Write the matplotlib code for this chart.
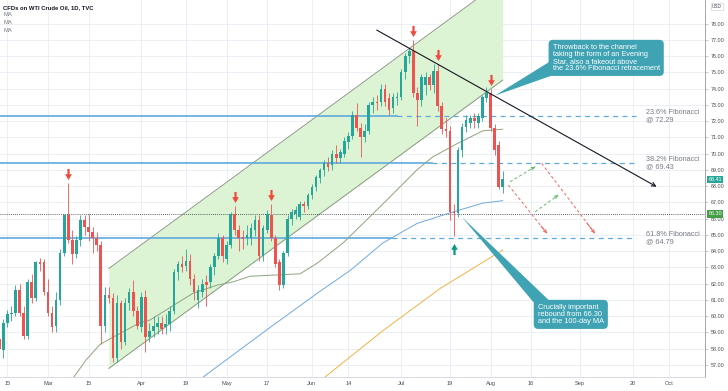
import matplotlib
matplotlib.use("Agg")
import matplotlib.pyplot as plt
import matplotlib.transforms as mtransforms
from matplotlib.path import Path
from matplotlib.patches import Polygon
import numpy as np
import pandas as pd

plt.rcParams["font.family"] = ["Liberation Sans", "DejaVu Sans"]

# trading days of the TVC feed (Good Friday is missing)
days = pd.bdate_range("2021-02-11", "2021-10-08")
days = days[days != pd.Timestamp("2021-04-02")]
zero = days.get_loc(pd.Timestamp("2021-02-15"))


def pos(d):
    return days.get_loc(pd.Timestamp(d)) - zero


# daily candles, 11 Feb .. 5 Aug 2021
opens = [58.6, 57.9, 59.6, 60.1, 60.2, 61.6, 60.2, 58.8, 62.1, 61.1,
         63.3, 63.3, 61.5, 60.2, 59.4, 61.0, 63.9, 66.2, 64.7, 63.8,
         64.7, 65.9, 65.5, 65.2, 64.8, 64.4, 59.4, 61.3, 61.1, 57.4,
         60.8, 58.4, 60.8, 61.5, 60.3, 59.3, 61.2, 58.7, 59.1, 59.3,
         59.6, 59.3, 59.5, 60.3, 62.7, 63.2, 63.1, 63.4, 62.3, 61.0,
         61.5, 62.1, 62.1, 63.0, 63.7, 64.8, 63.5, 64.4, 66.3, 65.3,
         64.85, 64.8, 64.8, 65.3, 65.9, 63.7, 65.3, 66.2, 64.8, 63.3,
         61.9, 63.9, 66.0, 66.3, 66.1, 66.9, 66.8, 67.45, 67.96, 68.5,
         69.0, 69.4, 69.3, 70.0, 69.7, 70.0, 70.7, 71.1, 72.4, 71.6,
         71.0, 71.4, 73.0, 73.2, 73.2, 74.0, 73.4, 72.8, 73.4, 73.5,
         75.0, 76.0, 76.3, 73.7, 73.3, 74.2, 74.7, 74.2, 75.1, 72.9,
         71.5, 71.4, 66.4, 66.35, 70.2, 71.65, 71.9, 72.2, 71.9, 72.2,
         73.4, 73.7, 71.55, 70.5, 67.96]
highs = [58.9, 59.8, 60.4, 60.6, 61.9, 62.0, 60.6, 62.3, 62.6, 63.4,
         63.6, 63.5, 62.3, 60.6, 61.5, 64.1, 66.3, 68.2, 65.3, 64.9,
         66.2, 66.2, 66.3, 65.5, 65.2, 64.6, 61.8, 61.8, 61.4, 61.3,
         61.0, 61.1, 61.7, 62.2, 60.6, 61.5, 61.6, 59.6, 60.0, 60.0,
         60.0, 60.1, 60.6, 62.9, 63.4, 63.7, 64.1, 63.8, 62.6, 61.9,
         62.3, 62.5, 63.2, 63.9, 65.1, 65.0, 64.6, 66.4, 66.8, 65.6,
         65.3, 65.6, 65.7, 66.2, 66.2, 65.6, 66.5, 66.9, 65.0, 63.5,
         64.0, 66.2, 66.6, 66.8, 67.1, 67.1, 67.6, 68.1, 68.7, 69.1,
         69.6, 69.8, 70.2, 70.5, 70.3, 71.0, 71.3, 72.6, 73.1, 71.9,
         71.8, 73.2, 73.5, 73.6, 74.3, 74.3, 73.7, 73.7, 73.8, 75.2,
         76.2, 76.5, 77.0, 74.1, 74.9, 75.0, 74.9, 75.5, 75.5, 73.2,
         72.2, 71.7, 66.9, 70.4, 71.9, 72.4, 72.4, 72.5, 72.5, 73.6,
         74.1, 74.0, 71.8, 70.8, 68.9]
lows = [57.7, 57.4, 59.3, 59.7, 60.0, 60.0, 58.6, 58.6, 60.8, 60.9,
        62.8, 61.3, 60.0, 59.0, 59.0, 60.7, 63.7, 64.5, 63.2, 63.6,
        64.3, 65.0, 64.6, 63.9, 64.0, 58.3, 59.0, 60.8, 57.2, 57.2,
        58.0, 58.2, 60.4, 60.0, 59.2, 59.0, 57.8, 58.4, 58.7, 58.9,
        58.9, 58.9, 59.1, 60.1, 62.2, 62.7, 62.8, 61.9, 61.0, 60.5,
        61.2, 60.6, 61.7, 62.5, 63.5, 63.3, 63.2, 64.2, 65.0, 64.0,
        64.1, 64.4, 64.4, 64.9, 63.4, 63.4, 65.1, 64.6, 63.0, 61.6,
        61.7, 63.7, 65.6, 66.0, 65.9, 66.4, 66.6, 67.2, 67.7, 68.2,
        68.6, 68.9, 69.0, 69.4, 69.4, 69.8, 70.3, 70.9, 71.4, 69.8,
        70.7, 71.2, 72.5, 72.7, 72.9, 72.9, 72.4, 72.5, 73.0, 73.3,
        74.6, 75.6, 73.5, 71.7, 72.9, 73.6, 73.9, 73.7, 72.6, 71.2,
        71.0, 65.9, 64.9, 66.1, 69.8, 71.3, 71.6, 71.6, 71.6, 72.0,
        73.2, 71.4, 69.9, 67.8, 67.6]
closes = [58.0, 59.6, 60.1, 60.2, 61.6, 60.2, 58.8, 62.1, 61.1, 63.3,
          63.2, 61.5, 60.2, 59.3, 61.0, 63.9, 66.2, 64.7, 63.8, 64.7,
          65.9, 65.5, 65.2, 64.8, 64.4, 59.4, 61.3, 61.1, 57.4, 60.8,
          58.4, 60.8, 61.5, 60.3, 59.4, 61.2, 58.7, 59.1, 59.4, 59.6,
          59.2, 59.5, 60.3, 62.7, 63.2, 63.0, 63.4, 62.3, 61.5, 61.6,
          62.0, 61.9, 63.0, 63.7, 64.8, 63.7, 64.4, 66.3, 65.3, 64.8,
          64.75, 65.0, 65.4, 65.9, 63.7, 65.4, 66.3, 64.8, 63.2, 61.9,
          63.9, 66.0, 66.4, 66.5, 66.9, 66.8, 67.45, 67.96, 68.58, 69.0,
          69.4, 69.2, 70.0, 69.7, 70.1, 70.8, 71.1, 72.4, 71.6, 71.0,
          71.4, 73.0, 73.2, 73.1, 74.0, 73.2, 72.7, 73.5, 73.5, 75.0,
          76.0, 76.3, 73.7, 73.3, 74.7, 74.7, 74.2, 75.1, 72.9, 71.5,
          71.4, 66.4, 66.35, 70.2, 71.65, 72.06, 72.2, 72.0, 72.3, 73.5,
          73.7, 71.55, 70.2, 67.96, 68.41]

# moving averages (bar position, value)
ma50_pos = [14.5, 19.4, 22.8, 25.3, 32.7, 35.1, 45.7, 51.6, 55.5, 59.8,
            72.1, 76.3, 82.7, 92.5, 100.9, 104.8, 110.7, 117.1, 122]
ma50_val = [55.6, 57.3, 58.25, 58.6, 59.6, 59.75, 61.4, 61.9, 62.1, 62.45,
            62.6, 63.25, 64.5, 66.9, 69.0, 69.8, 70.6, 71.4, 71.5]
ma100_pos = [45.8, 64.7, 76.3, 84.4, 92.5, 100.9, 109.0, 117.1, 122]
ma100_val = [55.8, 59.3, 61.4, 62.8, 64.5, 65.7, 66.35, 66.95, 67.1]
ma200_pos = [76.0, 92.5, 106.6, 122]
ma200_val = [55.8, 59.1, 61.7, 64.06]

# drawings
fib_levels = [72.29, 69.43, 64.79]
fib_names = ["23.6% Fibonacci", "38.2% Fibonacci", "61.8% Fibonacci"]
fib_solid_end = [96, 104.5, 94.7]
support = 66.30
arrow_down_bars = [15, 56, 65, 100, 106, 119]
arrow_up_bars = [110]
channel_pos = [25, 122]
channel_low = [56.78, 74.52]
channel_width = 6.15
trend_pos = [90.97, 159.9]
trend_val = [77.6, 67.96]
# projected paths: (start pos, start price, end pos, end price)
paths_red = [(123.4, 68.06, 132.9, 65.09), (131.6, 69.40, 144.7, 65.09)]
paths_green = [(123.8, 68.26, 130.0, 69.19), (130.0, 66.42, 135.7, 67.45)]

tick_dates = ["2021-02-15", "2021-03-01", "2021-03-15", "2021-04-01",
              "2021-04-19", "2021-05-03", "2021-05-17", "2021-06-01",
              "2021-06-14", "2021-07-01", "2021-07-19", "2021-08-02",
              "2021-08-16", "2021-09-01", "2021-09-20", "2021-10-01"]
tick_labels = ["15", "Mar", "15", "Apr", "19", "May", "17", "Jun", "14",
               "Jul", "19", "Aug", "16", "Sep", "20", "Oct"]

UP, DOWN = "#26a69a", "#ef5350"
TEAL = "#3fa3b3"
FIB = "#5eaadf"
GREY = "#787b86"
XMIN, XMAX = -1.813, 171.83

fig = plt.figure(figsize=(7.28, 3.91), dpi=100)
ax = fig.add_axes([0, 14 / 391, 705 / 728, 377 / 391])
ax.set_xlim(XMIN, XMAX)
ax.set_ylim(56.25, 79.45)

# rising channel
cx = np.array(channel_pos, dtype=float)
clo = np.array(channel_low)
ax.fill_between(cx, clo, clo + channel_width, color="#dcf4d3", lw=0, zorder=1)
ax.plot(cx, clo, color="#8c9a86", lw=0.7, zorder=2)
ax.plot(cx, clo + channel_width, color="#8c9a86", lw=0.7, zorder=2)

# fibonacci levels
fib_end = 154.8
for lvl, name, se in zip(fib_levels, fib_names, fib_solid_end):
    ax.plot([XMIN, se], [lvl, lvl], color=FIB, lw=1.2, zorder=2)
    ax.plot([se, fib_end], [lvl, lvl], color=FIB, lw=0.9, dashes=(4, 3.5), zorder=2)
    ax.text(157.3, lvl, f"{name}\n@ {lvl:.2f}", fontsize=5.2, color=GREY,
            ha="left", va="center", linespacing=1.0, zorder=3)
ax.plot([XMIN, XMAX], [support, support], color="#2a2e39", lw=0.6,
        ls=(0, (1, 1.5)), zorder=2)

# moving averages
ax.plot(ma50_pos, ma50_val, color="#8fa37f", lw=0.7, zorder=3)
ax.plot(ma100_pos, ma100_val, color="#6fa9dc", lw=0.7, zorder=3)
ax.plot(ma200_pos, ma200_val, color="#f5b246", lw=0.7, zorder=3)

# candles
x = np.arange(len(opens)) + pos("2021-02-11")
o, h, l, c = map(np.array, (opens, highs, lows, closes))
col = np.where(c >= o, UP, DOWN)
ax.vlines(x, l, h, colors=col, lw=0.6, zorder=4)
ax.bar(x, np.maximum(np.abs(c - o), 0.06), bottom=np.minimum(o, c),
       width=0.64, color=col, lw=0, zorder=5)

# arrow marks
down = Path([(-0.2, 1), (0.2, 1), (0.2, 0.05), (0.6, 0.05), (0, -1),
             (-0.6, 0.05), (-0.2, 0.05), (-0.2, 1)], closed=True)
up = Path([(-0.2, -1), (0.2, -1), (0.2, -0.05), (0.6, -0.05), (0, 1),
           (-0.6, -0.05), (-0.2, -0.05), (-0.2, -1)], closed=True)
i0 = pos("2021-02-11")
dn_idx = np.array(arrow_down_bars)
up_idx = np.array(arrow_up_bars)
ax.plot(dn_idx, h[dn_idx - i0] + 0.55, ls="", marker=down, ms=8,
        color="#ef4a3f", mew=0, zorder=6)
ax.plot(up_idx, l[up_idx - i0] - 0.75, ls="", marker=up, ms=8,
        color="#089981", mew=0, zorder=6)

# trend line
ax.annotate("", xy=(trend_pos[1], trend_val[1]), xytext=(trend_pos[0], trend_val[0]),
            arrowprops=dict(arrowstyle="->", color="#131722", lw=0.8,
                            mutation_scale=7, shrinkA=0, shrinkB=0), zorder=6)

# projected paths
for segs, colr in ((paths_red, "#ef6a62"), (paths_green, "#66bb6a")):
    for x0, y0, x1, y1 in segs:
        ax.plot([x0, x1], [y0, y1], color=colr, lw=0.7, dashes=(3, 2.5), zorder=6)
        ax.annotate("", xy=(x1, y1), xytext=(x1 - (x1 - x0) * 0.15, y1 - (y1 - y0) * 0.15),
                    arrowprops=dict(arrowstyle="->", color=colr, lw=0.7,
                                    mutation_scale=5, shrinkA=0, shrinkB=0), zorder=6)

# callouts
ax.add_patch(Polygon([(120.1, 73.57), (133.4, 75.63), (136.6, 75.02)],
                     closed=True, fc=TEAL, ec="none", zorder=8))
ax.text(134.3, 76.75, "Throwback to the channel\ntaking the form of an Evening\n"
        "Star, also a fakeout above\nthe 23.6% Fibonacci retracement",
        fontsize=5.3, color="white", ha="left", va="top", linespacing=1.0, zorder=9,
        bbox=dict(boxstyle="round,pad=0.55,rounding_size=0.6", fc=TEAL, ec="none"))
ax.add_patch(Polygon([(111.98, 66.09), (129.96, 60.74), (133.6, 60.92)],
                     closed=True, fc=TEAL, ec="none", zorder=8))
ax.text(130.65, 60.75, "Crucially important\nrebound from 66.30\nand the 100-day MA",
        fontsize=5.3, color="white", ha="left", va="top", linespacing=1.0, zorder=9,
        bbox=dict(boxstyle="round,pad=0.55,rounding_size=0.6", fc=TEAL, ec="none"))

# axes styling
ax.set_xticks([pos(d) for d in tick_dates])
ax.set_xticklabels(tick_labels)
ax.set_yticks(np.arange(57, 79))
ax.set_yticklabels([f"{v:.2f}" for v in np.arange(57, 79)])
ax.yaxis.tick_right()
ax.tick_params(axis="y", length=2, width=0.5, color="#b2b5be", pad=2,
               labelsize=3.9, labelcolor="#4a4d57")
ax.tick_params(axis="x", length=0, pad=3, labelsize=4.1, labelcolor="#4a4d57")
ax.grid(True, color="#e9ecf2", lw=0.6)
ax.set_axisbelow(True)
for s in ("left", "top"):
    ax.spines[s].set_visible(False)
ax.spines["right"].set_color("#9598a1")
ax.spines["right"].set_linewidth(0.6)
ax.spines["bottom"].set_color("#d1d4dc")
ax.spines["bottom"].set_linewidth(0.6)

# price labels on the scale
trans = mtransforms.blended_transform_factory(ax.transAxes, ax.transData)
ax.text(1.0145, closes[-1], f"{closes[-1]:.2f}", transform=trans, fontsize=3.9,
        color="white", ha="center", va="center", zorder=10, clip_on=False,
        bbox=dict(boxstyle="square,pad=0.25", fc=UP, ec="none"))
ax.text(1.0145, support, f"{support:.2f}", transform=trans, fontsize=3.9,
        color="white", ha="center", va="center", zorder=10, clip_on=False,
        bbox=dict(boxstyle="square,pad=0.25", fc="#43a047", ec="none"))
fig.text(717 / 728, 1 - 6.5 / 391, "USD", fontsize=3.4, color="#4a4d57",
         ha="center", va="center",
         bbox=dict(boxstyle="square,pad=0.3", fc="white", ec="#d1d4dc", lw=0.5))

# legend header
fig.text(3 / 728, 1 - 7.3 / 391, "CFDs on WTI Crude Oil, 1D, TVC", fontsize=4.2,
         fontweight="bold", color="#131722", va="center")
for i in range(3):
    fig.text(3 / 728, 1 - (15 + 7.8 * i) / 391, "MA", fontsize=4.2, color=GREY,
             va="center")

fig.savefig("out.png", dpi=100)
